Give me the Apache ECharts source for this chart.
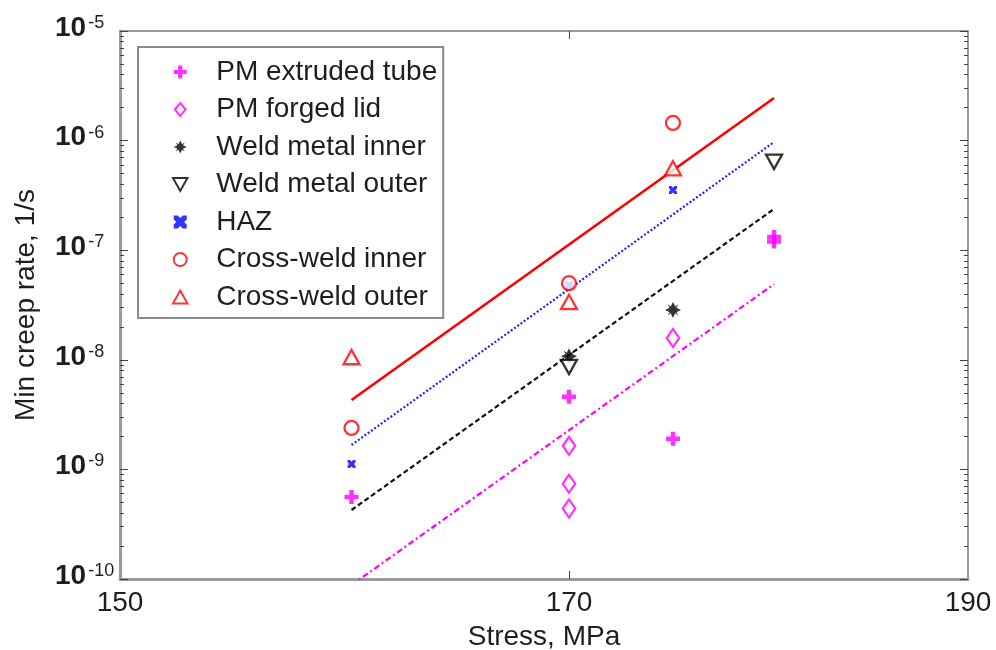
<!DOCTYPE html>
<html>
<head>
<meta charset="utf-8">
<script src="https://cdn.jsdelivr.net/npm/echarts@6/dist/echarts.min.js"></script>
<style>
  html, body { margin: 0; padding: 0; background: #fff; }
  #chart { width: 996px; height: 650px; }
</style>
</head>
<body>
<div id="chart"></div>
<script>
// Tick positions
const xTickValues = [150, 170, 190];
const xInnerTicks = [170];
const yTickValues = [1e-10, 1e-9, 1e-8, 1e-7, 1e-6, 1e-5];
const yMinorTickValues = [
  2e-10, 3e-10, 4e-10, 5e-10, 6e-10, 7e-10, 8e-10, 9e-10,
  2e-9, 3e-9, 4e-9, 5e-9, 6e-9, 7e-9, 8e-9, 9e-9,
  2e-8, 3e-8, 4e-8, 5e-8, 6e-8, 7e-8, 8e-8, 9e-8,
  2e-7, 3e-7, 4e-7, 5e-7, 6e-7, 7e-7, 8e-7, 9e-7,
  2e-6, 3e-6, 4e-6, 5e-6, 6e-6, 7e-6, 8e-6, 9e-6
];

// Measured minimum creep rates [stress MPa, rate 1/s]
const pmExtrudedTube = [[160, 5.6e-10], [170, 4.6e-9], [175, 1.9e-9], [180, 1.32e-7], [180, 1.2e-7]];
const pmForgedLid = [[170, 1.64e-9], [170, 7.4e-10], [170, 4.4e-10], [175, 1.58e-8]];
const weldMetalInner = [[170, 1.08e-8], [175, 2.85e-8]];
const weldMetalOuter = [[170, 8.6e-9], [180, 6.4e-7]];
const haz = [[160, 1.12e-9], [170, 4.8e-8], [175, 3.54e-7]];
const crossWeldInner = [[160, 2.39e-9], [170, 5.0e-8], [175, 1.45e-6]];
const crossWeldOuter = [[160, 1.06e-8], [170, 3.37e-8], [175, 5.6e-7]];

// Power-law fits (end points at 160 and 180 MPa)
const fitCrossWeld = [[160, 4.3e-9], [180, 2.45e-6]];
const fitHaz = [[160, 1.67e-9], [180, 9.7e-7]];
const fitWeldMetal = [[160, 4.26e-10], [180, 2.38e-7]];
const fitParentMetal = [[160, 8.8e-11], [180, 4.9e-8]];

const FONT = '"Liberation Sans", Arial, Helvetica, sans-serif';
const TEXT = '#1e1e1e';
const FRAME = '#9a9a9a';

// Marker outlines
const plusPath = 'path://M3.4,0H6.6V3.4H10V6.6H6.6V10H3.4V6.6H0V3.4H3.4Z';
const starPath = 'path://M5,0L6.4,2.9L8.5,1.5L7.1,3.6L10,5L7.1,6.4L8.5,8.5L6.4,7.1L5,10L3.6,7.1L1.5,8.5L2.9,6.4L0,5L2.9,3.6L1.5,1.5L3.6,2.9Z';
const crossPath = 'path://M0,0H3L5,2L7,0H10V3L8,5L10,7V10H7L5,8L3,10H0V7L2,5L0,3Z';
const diamondPath = 'path://M5,0L10,6L5,12L0,6Z';
const triUpPath = 'path://M5,0L10,9L0,9Z';
const triDownPath = 'path://M0,0L10,0L5,9Z';

function logAxisY(position, ticks, len, labels) {
  return {
    type: 'log', logBase: 10, min: 1e-10, max: 1e-5,
    position: position, offset: 0,
    axisLine: { show: false },
    splitLine: { show: false },
    minorTick: { show: false },
    axisTick: { show: true, inside: true, length: len, customValues: ticks,
                lineStyle: { color: '#444', width: 1 } },
    axisLabel: labels ? {
      show: true, customValues: yTickValues, margin: 65, align: 'left',
      padding: [0, 0, 6, 0],
      formatter: v => '{b|10}{s|' + Math.round(Math.log10(v)) + '}',
      rich: {
        b: { fontFamily: FONT, fontSize: 28, fontWeight: 'bold', color: TEXT,
             lineHeight: 28, verticalAlign: 'bottom' },
        s: { fontFamily: FONT, fontSize: 18, color: TEXT, lineHeight: 18,
             verticalAlign: 'top', padding: [0, 0, 18, 2] }
      }
    } : { show: false }
  };
}

function solidMarker(name, data, symbol, size, color) {
  return { name: name, type: 'scatter', data: data, symbol: symbol, symbolSize: size,
           symbolKeepAspect: true, itemStyle: { color: color }, z: 5 };
}

function hollowMarker(name, data, symbol, size, color) {
  return { name: name, type: 'scatter', data: data, symbol: symbol, symbolSize: size,
           symbolKeepAspect: true,
           itemStyle: { color: '#ffffff', borderColor: color, borderWidth: 2.3 }, z: 5 };
}

function fit(data, color, type, width) {
  return {
    type: 'line', data: data, symbol: 'none', clip: true, silent: true,
    lineStyle: { color: color, type: type, width: width }, z: 3
  };
}

const chart = echarts.init(document.getElementById('chart'), null, { renderer: 'canvas' });
chart.setOption({
  animation: false,
  backgroundColor: '#fff',
  grid: { left: 120, top: 31, right: 28, bottom: 71, show: true,
          outerBoundsMode: 'none', containLabel: false,
          borderColor: FRAME, borderWidth: 2, backgroundColor: 'transparent' },
  xAxis: [{
    type: 'log', logBase: 10, min: 150, max: 190, position: 'bottom',
    name: 'Stress, MPa', nameLocation: 'middle', nameGap: 44,
    nameTextStyle: { fontFamily: FONT, fontSize: 28, color: TEXT },
    axisLine: { show: true, lineStyle: { color: FRAME, width: 3 } },
    splitLine: { show: false },
    axisTick: { show: true, inside: true, length: 8, customValues: xInnerTicks,
                lineStyle: { color: '#444', width: 1 } },
    axisLabel: { show: true, customValues: xTickValues, margin: 10,
                 fontFamily: FONT, fontSize: 28, color: TEXT }
  }, {
    type: 'log', logBase: 10, min: 150, max: 190, position: 'top',
    axisLine: { show: false }, splitLine: { show: false },
    axisTick: { show: true, inside: true, length: 8, customValues: xInnerTicks,
                lineStyle: { color: '#444', width: 1 } },
    axisLabel: { show: false }
  }],
  yAxis: [
    Object.assign(logAxisY('left', yTickValues, 8, true), {
      name: 'Min creep rate, 1/s', nameLocation: 'middle', nameGap: 80,
      nameTextStyle: { fontFamily: FONT, fontSize: 28, color: TEXT },
      axisLine: { show: true, lineStyle: { color: FRAME, width: 3 } }
    }),
    logAxisY('left', yMinorTickValues, 4, false),
    logAxisY('right', yTickValues, 8, false),
    logAxisY('right', yMinorTickValues, 4, false)
  ],
  legend: {
    orient: 'vertical', left: 138, top: 47,
    padding: [11, 6, 7, 34],
    itemWidth: 62, itemHeight: 13, itemGap: 9.5,
    borderColor: '#8a8a8a', borderWidth: 2, backgroundColor: '#fff',
    textStyle: { fontFamily: FONT, fontSize: 28, color: TEXT, lineHeight: 28 },
    data: ['PM extruded tube', 'PM forged lid', 'Weld metal inner', 'Weld metal outer',
           'HAZ', 'Cross-weld inner', 'Cross-weld outer']
  },
  series: [
    fit(fitCrossWeld, '#ff0000', 'solid', 2.6),
    fit(fitHaz, '#2020ff', [2, 2], 2.2),
    fit(fitWeldMetal, '#111111', [5, 3], 2.2),
    fit(fitParentMetal, '#ff00ff', [6, 3, 2, 3], 2.2),
    solidMarker('PM extruded tube', pmExtrudedTube, plusPath, 14, '#ff00ff'),
    hollowMarker('PM forged lid', pmForgedLid, diamondPath, [15, 18], '#ff00ff'),
    solidMarker('Weld metal inner', weldMetalInner, starPath, 16, '#000000'),
    hollowMarker('Weld metal outer', weldMetalOuter, triDownPath, 16, '#000000'),
    solidMarker('HAZ', haz, crossPath, 8, '#0000ff'),
    hollowMarker('Cross-weld inner', crossWeldInner, 'circle', 14, '#ff0000'),
    hollowMarker('Cross-weld outer', crossWeldOuter, triUpPath, 16, '#ff0000')
  ]
});
</script>
</body>
</html>
